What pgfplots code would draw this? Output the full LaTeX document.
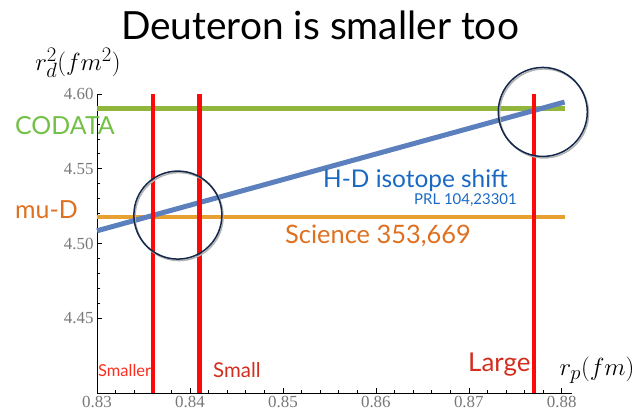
\documentclass[border=0pt]{standalone}
\usepackage{pgfplots}
\pgfplotsset{compat=1.18}
\usepackage{fontspec}
\setmainfont{Lato}
\newfontfamily\tickfont{Liberation Serif}
\newcommand{\tk}[1]{{\tickfont\fontsize{17}{17}\selectfont\color{ctick}#1}}
\definecolor{cgreen}{RGB}{145,182,60}
\definecolor{cgreentxt}{RGB}{115,192,70}
\definecolor{corange}{RGB}{232,160,48}
\definecolor{corangetxt}{RGB}{222,112,32}
\definecolor{cblue}{RGB}{92,128,190}
\definecolor{cbluetxt}{RGB}{25,105,195}
\definecolor{cred}{RGB}{252,10,10}
\definecolor{credtxt}{RGB}{210,45,30}
\definecolor{credtxtb}{RGB}{250,45,30}
\definecolor{ccircle}{RGB}{20,40,75}
\definecolor{ctick}{RGB}{120,120,120}
\begin{document}
\begin{tikzpicture}
\begin{axis}[
  at={(0,0)}, anchor=south west,
  scale only axis, width=475bp, height=299bp,
  xmin=0.83, xmax=0.8811, ymin=4.40, ymax=4.60,
  clip=false,
  axis lines=left, axis line style={-, black, line width=0.8bp},
  xtick={0.83,0.84,0.85,0.86,0.87,0.88},
  ytick={4.45,4.50,4.55,4.60},
  xticklabels={\tk{0.83},\tk{0.84},\tk{0.85},\tk{0.86},\tk{0.87},\tk{0.88}},
  yticklabels={\tk{4.45},\tk{4.50},\tk{4.55},\tk{4.60}},
  minor tick num=4,
  tick align=inside,
  major tick length=5bp, minor tick length=3bp,
  tick style={black, line width=0.6bp},
]
\addplot[cgreen, line width=5bp] coordinates {(0.83,4.59) (0.8803,4.59)};
\addplot[corange, line width=4bp] coordinates {(0.83,4.5177) (0.8803,4.5177)};
\addplot[cblue, line width=5bp] coordinates {(0.83,4.5085) (0.8803,4.5946)};
\addplot[cred, line width=4.5bp] coordinates {(0.836,4.40) (0.836,4.60)};
\addplot[cred, line width=4.5bp] coordinates {(0.841,4.40) (0.841,4.60)};
\addplot[cred, line width=4.5bp] coordinates {(0.877,4.40) (0.877,4.60)};
\draw[black!30, line width=1.5bp, shift={(1.2bp,-1.5bp)}] (axis cs:0.8387,4.519) circle[radius=44bp];
\draw[black!30, line width=1.5bp, shift={(1.2bp,-1.5bp)}] (axis cs:0.87796,4.588) circle[radius=44.5bp];
\draw[ccircle, line width=1.5bp] (axis cs:0.8387,4.519) circle[radius=44bp];
\draw[ccircle, line width=1.5bp] (axis cs:0.87796,4.588) circle[radius=44.5bp];
\end{axis}
% title
\node[font=\fontsize{39}{39}\selectfont, anchor=base, inner sep=0pt] at (223bp,353bp) {Deuteron is smaller too};
% axis labels
\node[font=\fontsize{29}{29}\selectfont, inner sep=0pt] at (-19bp,330bp) {$r_d^2(fm^2)$};
\node[font=\fontsize{29}{29}\selectfont, inner sep=0pt] at (500bp,23bp) {$r_p(fm)$};
% annotations
\node[anchor=west, inner sep=0pt, text=cgreentxt, font=\fontsize{25}{25}\selectfont] at (-82bp,267bp) {CODATA};
\node[anchor=west, inner sep=0pt, text=corangetxt, font=\fontsize{25}{25}\selectfont] at (-82bp,183bp) {mu-D};
\node[anchor=west, inner sep=0pt, text=cbluetxt, font=\fontsize{24.5}{24.5}\selectfont] at (226bp,212bp) {H-D isotope shift};
\node[anchor=east, inner sep=0pt, text=cbluetxt, font=\fontsize{15}{15}\selectfont] at (420bp,193bp) {PRL 104,23301};
\node[anchor=west, inner sep=0pt, text=corangetxt, font=\fontsize{25.5}{25.5}\selectfont] at (188bp,157bp) {Science 353,669};
\node[anchor=west, inner sep=0pt, text=credtxtb, font=\fontsize{16.5}{16.5}\selectfont] at (1bp,22bp) {Smaller};
\node[anchor=west, inner sep=0pt, text=credtxt, font=\fontsize{20.5}{20.5}\selectfont] at (116bp,23bp) {Small};
\node[anchor=west, inner sep=0pt, text=credtxt, font=\fontsize{26}{26}\selectfont] at (371bp,28bp) {Large};
\pgfresetboundingbox
\path (-97bp,-23bp) rectangle (544bp,393bp);
\end{tikzpicture}
\end{document}
